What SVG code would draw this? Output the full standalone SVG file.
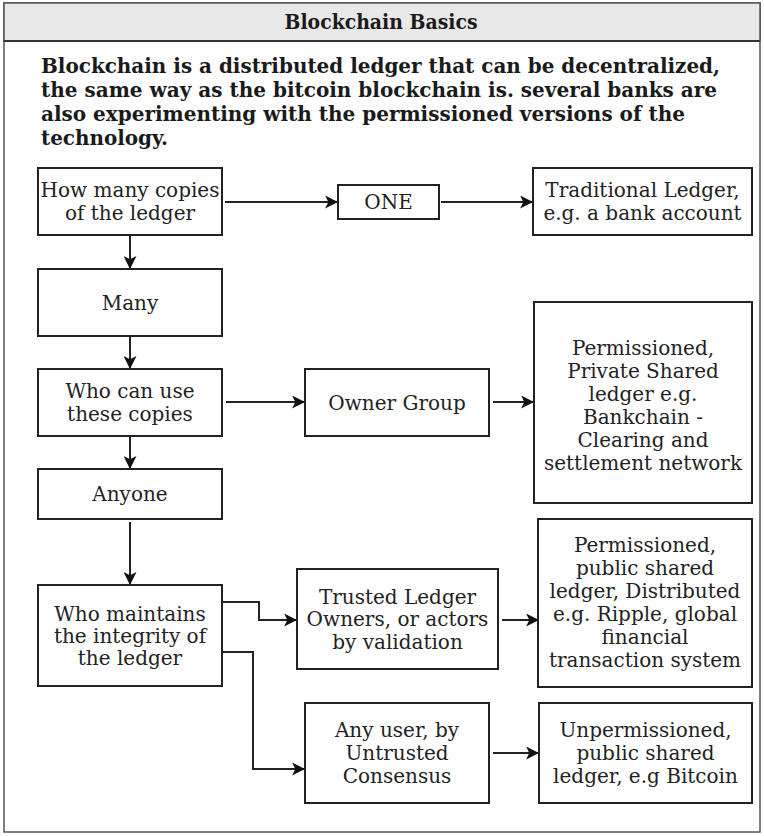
<svg xmlns="http://www.w3.org/2000/svg" width="764" height="836" viewBox="0 0 764 836">
<style>
.box{fill:#fff;stroke:#222;stroke-width:2}
.t{font-family:"DejaVu Serif","Liberation Serif",serif;font-size:20px;fill:#222;text-anchor:middle}
.b{font-family:"DejaVu Serif Condensed","DejaVu Serif","Liberation Serif",serif;font-stretch:condensed;font-weight:bold;fill:#1a1a1a}
.c{fill:none;stroke:#222;stroke-width:2}
</style>
<defs>
<marker id="ah" viewBox="0 0 12 12" refX="11" refY="6" markerWidth="13" markerHeight="13" markerUnits="userSpaceOnUse" orient="auto">
<path d="M0,0 L12,6 L0,12 L3,6 z" fill="#111"/>
</marker>
</defs>
<rect x="0" y="0" width="764" height="836" fill="#fff"/>
<g id="frame">
<rect x="4" y="3" width="756" height="829" fill="#fff" stroke="#555" stroke-width="1.5"/>
<rect x="4" y="3" width="756" height="38" fill="#e8e8e8" stroke="#555" stroke-width="1.5"/>
<line x1="4" y1="41" x2="760" y2="41" stroke="#333" stroke-width="2"/>
<text class="b" x="381" y="29" font-size="20" text-anchor="middle" textLength="193" lengthAdjust="spacingAndGlyphs">Blockchain Basics</text>
</g>
<g id="intro" class="b" font-size="21">
<text x="41" y="73" textLength="679" lengthAdjust="spacingAndGlyphs">Blockchain is a distributed ledger that can be decentralized,</text>
<text x="41" y="97" textLength="676" lengthAdjust="spacingAndGlyphs">the same way as the bitcoin blockchain is. several banks are</text>
<text x="41" y="121" textLength="644" lengthAdjust="spacingAndGlyphs">also experimenting with the permissioned versions of the</text>
<text x="41" y="145" textLength="127" lengthAdjust="spacingAndGlyphs">technology.</text>
</g>
<g id="connectors">
<path class="c" marker-end="url(#ah)" d="M130,236 V268"/>
<path class="c" marker-end="url(#ah)" d="M225,202 H337"/>
<path class="c" marker-end="url(#ah)" d="M441,202 H532"/>
<path class="c" marker-end="url(#ah)" d="M130,337 V368"/>
<path class="c" marker-end="url(#ah)" d="M226,402 H304"/>
<path class="c" marker-end="url(#ah)" d="M493,402 H533"/>
<path class="c" marker-end="url(#ah)" d="M130,437 V468"/>
<path class="c" marker-end="url(#ah)" d="M130,522 V584"/>
<path class="c" marker-end="url(#ah)" d="M223,602 H259 V620 H296"/>
<path class="c" marker-end="url(#ah)" d="M223,652 H253 V769 H304"/>
<path class="c" marker-end="url(#ah)" d="M502,620 H538"/>
<path class="c" marker-end="url(#ah)" d="M493,753 H538"/>
</g>
<g id="n-copies"><rect class="box" x="38" y="168" width="184" height="67"/><text class="t" x="130" y="197">How many copies</text><text class="t" x="130" y="220">of the ledger</text></g>
<g id="n-one"><rect class="box" x="338" y="185" width="101" height="34"/><text class="t" x="388.5" y="209">ONE</text></g>
<g id="n-traditional"><rect class="box" x="533" y="168" width="219" height="67"/><text class="t" x="642.5" y="197">Traditional Ledger,</text><text class="t" x="642.5" y="220">e.g. a bank account</text></g>
<g id="n-many"><rect class="box" x="38" y="269" width="184" height="67"/><text class="t" x="130" y="309.5">Many</text></g>
<g id="n-who-use"><rect class="box" x="38" y="369" width="184" height="67"/><text class="t" x="130" y="398">Who can use</text><text class="t" x="130" y="421">these copies</text></g>
<g id="n-owner"><rect class="box" x="305" y="369" width="184" height="67"/><text class="t" x="397" y="409.5">Owner Group</text></g>
<g id="n-private"><rect class="box" x="534" y="302" width="218" height="201"/>
<text class="t" x="643" y="355">Permissioned,</text><text class="t" x="643" y="378">Private Shared</text><text class="t" x="643" y="401">ledger e.g.</text><text class="t" x="643" y="424">Bankchain -</text><text class="t" x="643" y="447">Clearing and</text><text class="t" x="643" y="470">settlement network</text></g>
<g id="n-anyone"><rect class="box" x="38" y="469" width="184" height="50"/><text class="t" x="130" y="501">Anyone</text></g>
<g id="n-maintains"><rect class="box" x="38" y="585" width="184" height="101"/><text class="t" x="130" y="620.5">Who maintains</text><text class="t" x="130" y="642.5">the integrity of</text><text class="t" x="130" y="664.5">the ledger</text></g>
<g id="n-trusted"><rect class="box" x="297" y="569" width="201" height="100"/><text class="t" x="397.5" y="603.5">Trusted Ledger</text><text class="t" x="397.5" y="626">Owners, or actors</text><text class="t" x="397.5" y="648.5">by validation</text></g>
<g id="n-public"><rect class="box" x="538" y="519" width="214" height="168"/>
<text class="t" x="645" y="552">Permissioned,</text><text class="t" x="645" y="575">public shared</text><text class="t" x="645" y="598">ledger, Distributed</text><text class="t" x="645" y="621">e.g. Ripple, global</text><text class="t" x="645" y="644">financial</text><text class="t" x="645" y="667">transaction system</text></g>
<g id="n-anyuser"><rect class="box" x="305" y="703" width="184" height="100"/><text class="t" x="397" y="737">Any user, by</text><text class="t" x="397" y="760">Untrusted</text><text class="t" x="397" y="783">Consensus</text></g>
<g id="n-unperm"><rect class="box" x="539" y="703" width="213" height="100"/><text class="t" x="645.5" y="737">Unpermissioned,</text><text class="t" x="645.5" y="760">public shared</text><text class="t" x="645.5" y="783">ledger, e.g Bitcoin</text></g>
</svg>
